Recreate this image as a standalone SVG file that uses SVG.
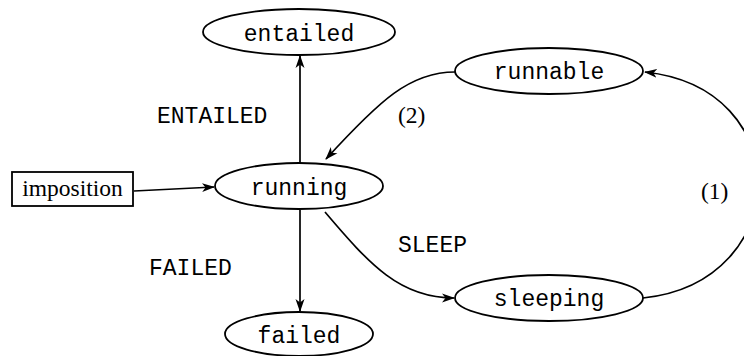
<svg xmlns="http://www.w3.org/2000/svg" width="744" height="356" viewBox="0 0 744 356">
<style>
.node{fill:#fff;stroke:#000;stroke-width:1.8}
.edge{fill:none;stroke:#000;stroke-width:1.7}
.mono{font-family:"Liberation Mono","DejaVu Sans Mono",monospace;font-size:23px;fill:#000}
.serif{font-family:"Liberation Serif","Times New Roman",serif;font-size:23.5px;fill:#000}
</style>
<defs>
<marker id="arr" viewBox="0 0 13 10" refX="12" refY="5" markerWidth="13" markerHeight="10" markerUnits="userSpaceOnUse" orient="auto">
<path d="M0,0.5 L13,5 L0,9.5 L3.5,5 z" fill="#000"/>
</marker>
</defs>
<g id="connectors">
<path class="edge" d="M134,191 L214,187" marker-end="url(#arr)"/>
<path class="edge" d="M300,163 L300,56" marker-end="url(#arr)"/>
<path class="edge" d="M300,210 L300,311" marker-end="url(#arr)"/>
<path class="edge" d="M455,72 C410,72 380,100 326,159" marker-end="url(#arr)"/>
<path class="edge" d="M325,212 C370,265 400,298 454,298" marker-end="url(#arr)"/>
<path class="edge" d="M643,298 C720,290 758,235 758,185 C758,130 720,80 645,72" marker-end="url(#arr)"/>
<text class="mono" x="157" y="123">ENTAILED</text>
<text class="mono" x="149" y="275">FAILED</text>
<text class="mono" x="398" y="252">SLEEP</text>
<text class="serif" x="398" y="123">(2)</text>
<text class="serif" x="701" y="199">(1)</text>
</g>
<g id="imposition">
<rect class="node" x="12" y="172" width="121" height="34"/>
<text class="serif" x="72.5" y="196" text-anchor="middle">imposition</text>
</g>
<g id="entailed">
<ellipse class="node" cx="299" cy="32" rx="96" ry="23"/>
<text class="mono" x="299" y="41" text-anchor="middle">entailed</text>
</g>
<g id="running">
<ellipse class="node" cx="299" cy="186" rx="84" ry="23"/>
<text class="mono" x="299" y="195" text-anchor="middle">running</text>
</g>
<g id="runnable">
<ellipse class="node" cx="549" cy="71" rx="94" ry="23"/>
<text class="mono" x="549" y="79" text-anchor="middle">runnable</text>
</g>
<g id="sleeping">
<ellipse class="node" cx="549" cy="298" rx="94" ry="23"/>
<text class="mono" x="549" y="306" text-anchor="middle">sleeping</text>
</g>
<g id="failed">
<ellipse class="node" cx="299" cy="334" rx="74" ry="22"/>
<text class="mono" x="299" y="343" text-anchor="middle">failed</text>
</g>
</svg>
